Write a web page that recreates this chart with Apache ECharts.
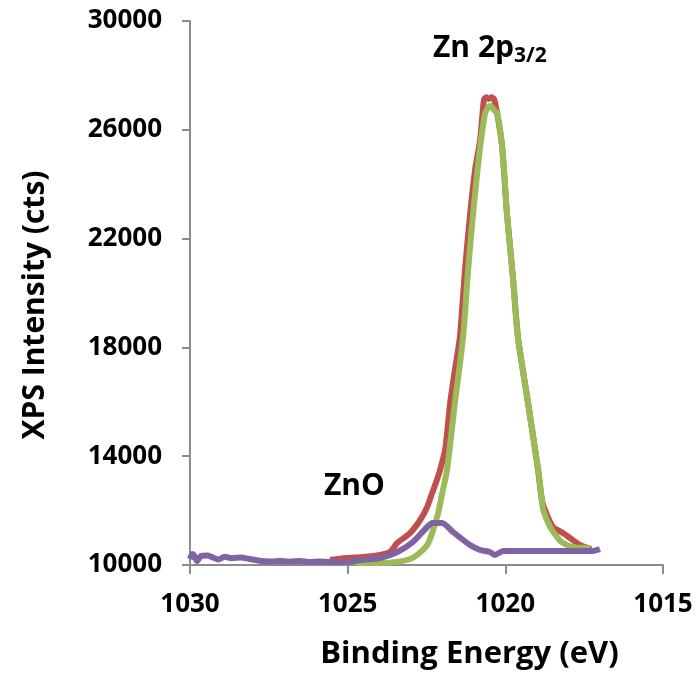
<!DOCTYPE html>
<html>
<head>
<meta charset="utf-8">
<script src="https://cdn.jsdelivr.net/npm/echarts@6/dist/echarts.min.js"></script>
<style>
  html, body { margin: 0; padding: 0; background: #fff; }
  #chart { width: 696px; height: 676px; }
</style>
</head>
<body>
<div id="chart"></div>
<script>
// Zn 2p3/2 XPS region: measured envelope, fitted peak, ZnO component
const xTicks = [1030, 1025, 1020, 1015];
const yTicks = [10000, 14000, 18000, 22000, 26000, 30000];

// Measured spectrum (binding energy eV, counts)
const measuredE = [1025.56, 1025.08, 1024.51, 1023.97, 1023.66, 1023.43, 1023.02, 1022.7, 1022.48, 1022.32,
  1022.17, 1022.07, 1021.91, 1021.75, 1021.6, 1021.44, 1021.28, 1021.12, 1020.96, 1020.8,
  1020.68, 1020.6, 1020.52, 1020.44, 1020.36, 1020.26, 1020.1, 1019.95, 1019.76, 1019.6,
  1019.28, 1018.96, 1018.84, 1018.68, 1018.49, 1018.17, 1017.95, 1017.63, 1017.38, 1017.28];
const measuredI = [10184, 10257, 10294, 10368, 10478, 10809, 11176, 11654, 12132, 12647,
  13125, 13492, 14227, 15955, 17168, 18381, 20844, 22866, 24520, 25623,
  27093, 27200, 27130, 27200, 27130, 26615, 25366, 22939, 20587, 18381,
  15955, 13492, 12389, 11838, 11397, 11176, 10992, 10735, 10625, 10588];

// Fitted Zn 2p3/2 envelope
const fitE = [1024.77, 1023.97, 1023.43, 1023.02, 1022.8, 1022.48, 1022.29, 1022.13, 1021.98, 1021.85,
  1021.6, 1021.34, 1021.18, 1021.02, 1020.8, 1020.64, 1020.56, 1020.49, 1020.42, 1020.36,
  1020.26, 1020.1, 1019.95, 1019.76, 1019.6, 1019.28, 1018.96, 1018.84, 1018.8, 1018.58,
  1018.36, 1018.17, 1017.85, 1017.31];
const fitI = [10074, 10074, 10110, 10220, 10368, 10735, 11287, 11912, 12757, 13492,
  15955, 18381, 20844, 22939, 25366, 26615, 26800, 26880, 26830, 26726,
  26615, 25366, 22939, 20587, 18381, 15955, 13492, 12389, 12022, 11397,
  11029, 10809, 10662, 10625];

// ZnO component with background
const znoE = [1030.0, 1029.93, 1029.84, 1029.78, 1029.65, 1029.45, 1029.3, 1029.1, 1028.9, 1028.67,
  1028.4, 1028.1, 1027.8, 1027.46, 1027.15, 1026.83, 1026.5, 1026.2, 1025.9, 1025.56,
  1025.08, 1024.6, 1023.97, 1023.43, 1022.93, 1022.48, 1022.32, 1022.0, 1021.66, 1021.12,
  1020.8, 1020.49, 1020.33, 1020.07, 1019.53, 1018.58, 1017.63, 1017.22, 1017.0];
const znoI = [10220, 10400, 10300, 10147, 10330, 10350, 10290, 10200, 10300, 10250,
  10276, 10220, 10160, 10130, 10150, 10120, 10150, 10110, 10130, 10110,
  10110, 10184, 10257, 10478, 10845, 11397, 11544, 11544, 11213, 10735,
  10551, 10478, 10368, 10515, 10515, 10515, 10515, 10515, 10588];

const pairs = (xs, ys) => xs.map((x, i) => [x, ys[i]]);

const chart = echarts.init(document.getElementById('chart'), null, { renderer: 'canvas' });
const axisColor = '#8c8c8c';
const fontFamily = '"Open Sans", Lato, sans-serif';
const plain = v => String(v);

chart.setOption({
  animation: false,
  grid: { left: 190, right: 33, top: 21, bottom: 111, containLabel: false },
  xAxis: {
    type: 'value',
    inverse: true,
    min: 1015,
    max: 1030,
    interval: 5,
    name: 'Binding Energy (eV)',
    nameLocation: 'middle',
    nameGap: 74,
    nameTextStyle: { fontFamily, fontWeight: 'bold', fontSize: 31, color: '#000',
      padding: [0, 0, 0, 86] },
    axisLine: { lineStyle: { color: axisColor, width: 2 } },
    axisTick: { show: true, length: 9, lineStyle: { color: axisColor, width: 2 } },
    axisLabel: { fontFamily, fontWeight: 'bold', fontSize: 26, color: '#000', margin: 27,
      customValues: xTicks, formatter: plain },
    splitLine: { show: false }
  },
  yAxis: {
    type: 'value',
    min: 10000,
    max: 30000,
    name: 'XPS Intensity (cts)',
    nameLocation: 'middle',
    nameGap: 140,
    nameTextStyle: { fontFamily, fontWeight: 'bold', fontSize: 30, color: '#000',
      padding: [0, 24, 0, 0] },
    axisLine: { show: true, lineStyle: { color: axisColor, width: 2 } },
    axisTick: { show: true, length: 8, lineStyle: { color: axisColor, width: 2 }, customValues: yTicks },
    axisLabel: { fontFamily, fontWeight: 'bold', fontSize: 26, color: '#000', margin: 28,
      customValues: yTicks, formatter: plain },
    splitLine: { show: false }
  },
  series: [
    {
      name: 'Measured', type: 'line', data: pairs(measuredE, measuredI),
      showSymbol: false, smooth: 0.2, z: 2,
      lineStyle: { color: '#C0504D', width: 6 }
    },
    {
      name: 'Zn 2p3/2 fit', type: 'line', data: pairs(fitE, fitI),
      showSymbol: false, smooth: 0.3, z: 3,
      lineStyle: { color: '#9BBB59', width: 6 }
    },
    {
      name: 'ZnO', type: 'line', data: pairs(znoE, znoI),
      showSymbol: false, smooth: 0.2, z: 4,
      lineStyle: { color: '#8064A2', width: 6 }
    }
  ],
  graphic: [
    {
      type: 'text', left: 433, top: 33, z: 10,
      style: {
        text: 'Zn 2p{sub|3/2}',
        fontFamily, fontWeight: 'bold', fontSize: 30, fill: '#000',
        rich: { sub: { fontFamily, fontWeight: 'bold', fontSize: 21, verticalAlign: 'bottom', padding: [16, 0, 0, 0] } }
      }
    },
    {
      type: 'text', left: 324, top: 471, z: 10,
      style: { text: 'ZnO', fontFamily, fontWeight: 'bold', fontSize: 30, fill: '#000' }
    }
  ]
});
</script>
</body>
</html>
